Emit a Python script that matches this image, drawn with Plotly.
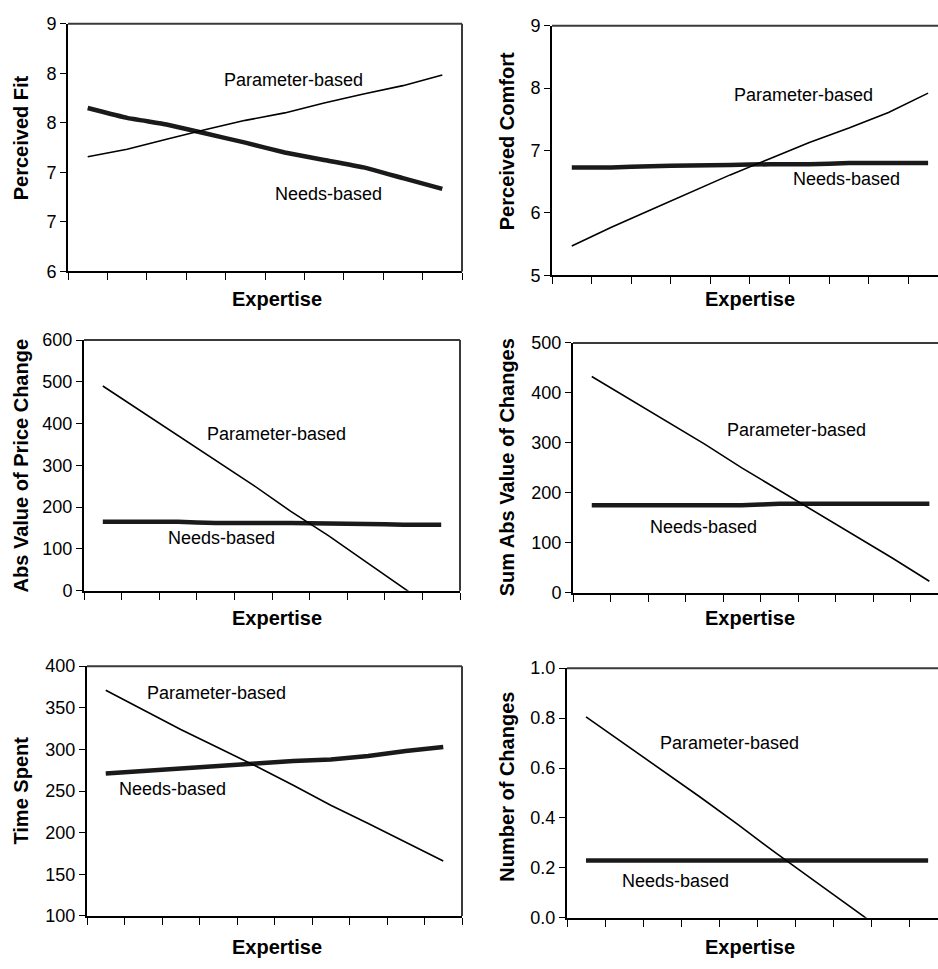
import plotly.graph_objects as go

W, H = 938, 969
FONT = "Liberation Sans, Arial, sans-serif"

expertise = list(range(1, 11))

fit_param = [7.39, 7.48, 7.60, 7.72, 7.83, 7.92, 8.04, 8.15, 8.25, 8.38]
fit_needs = [7.98, 7.86, 7.78, 7.67, 7.56, 7.44, 7.35, 7.26, 7.13, 7.00]
fit_ticks = [6, 6.6, 7.2, 7.8, 8.4, 9]
fit_ticklabels = ["6", "7", "7", "8", "8", "9"]

comfort_param = [5.47, 5.77, 6.05, 6.33, 6.61, 6.87, 7.13, 7.36, 7.61, 7.92]
comfort_needs = [6.73, 6.73, 6.75, 6.76, 6.77, 6.78, 6.78, 6.80, 6.80, 6.80]

price_param = [490, 431, 371, 312, 253, 190, 132, 69, 6, -56]
price_needs = [165, 165, 165, 162, 162, 162, 161, 160, 158, 158]

sumabs_param = [433, 388, 343, 298, 250, 205, 160, 115, 70, 23]
sumabs_needs = [175, 175, 175, 175, 175, 178, 178, 178, 178, 178]

time_param = [371, 347, 324, 302, 280, 257, 233, 211, 189, 166]
time_needs = [271, 274, 277, 280, 283, 286, 288, 292, 298, 303]

nchg_param = [0.805, 0.698, 0.592, 0.484, 0.373, 0.259, 0.149, 0.037, -0.073, -0.18]
nchg_needs = [0.23, 0.23, 0.23, 0.23, 0.23, 0.23, 0.23, 0.23, 0.23, 0.23]

panels = [
    dict(param=fit_param, needs=fit_needs, yrange=[6, 9], yticks=fit_ticks, ytext=fit_ticklabels,
         ytitle="Perceived Fit", box=(68, 462, 14, 267), xr=10.5,
         ytitle_pos=(21, 131), xtitle_pos=(277, 295),
         plab=(293, 71), nlab=(328, 188)),
    dict(param=comfort_param, needs=comfort_needs, yrange=[5, 9], yticks=[5, 6, 7, 8, 9], ytext=None,
         ytitle="Perceived Comfort", box=(552, 938, 16, 271), xr=10.25,
         ytitle_pos=(507, 134), xtitle_pos=(750, 295),
         plab=(803, 87), nlab=(846, 173)),
    dict(param=price_param, needs=price_needs, yrange=[0, 600], yticks=[0, 100, 200, 300, 400, 500, 600], ytext=None,
         ytitle="Abs Value of Price Change", box=(84, 460, 337, 593), xr=10.5,
         ytitle_pos=(21, 466), xtitle_pos=(277, 621),
         plab=(276, 433), nlab=(221, 539)),
    dict(param=sumabs_param, needs=sumabs_needs, yrange=[0, 500], yticks=[0, 100, 200, 300, 400, 500], ytext=None,
         ytitle="Sum Abs Value of Changes", box=(573, 938, 340, 595), xr=10.23,
         ytitle_pos=(507, 467), xtitle_pos=(750, 621),
         plab=(796, 429), nlab=(703, 528)),
    dict(param=time_param, needs=time_needs, yrange=[100, 400], yticks=[100, 150, 200, 250, 300, 350, 400], ytext=None,
         ytitle="Time Spent", box=(87, 462, 670, 925), xr=10.5,
         ytitle_pos=(21, 797), xtitle_pos=(277, 957),
         plab=(216, 697), nlab=(172, 795)),
    dict(param=nchg_param, needs=nchg_needs, yrange=[0, 1.0], yticks=[0, 0.2, 0.4, 0.6, 0.8, 1.0], ytext=["0.0", "0.2", "0.4", "0.6", "0.8", "1.0"],
         ytitle="Number of Changes", box=(567, 938, 672, 927), xr=10.26,
         ytitle_pos=(507, 793), xtitle_pos=(750, 957),
         plab=(729, 748), nlab=(675, 889)),
]

fig = go.Figure()
annotations = []
shapes = []
layout = {}
boundaries = [i + 0.5 for i in range(0, 11)]

for i, p in enumerate(panels, start=1):
    xa = "x" if i == 1 else f"x{i}"
    ya = "y" if i == 1 else f"y{i}"
    xkey = "xaxis" if i == 1 else f"xaxis{i}"
    ykey = "yaxis" if i == 1 else f"yaxis{i}"
    x0, x1, y0, y1 = p["box"]
    fig.add_trace(go.Scatter(x=expertise, y=p["needs"], mode="lines",
                             line=dict(color="#1a1a1a", width=4.5, shape="spline", smoothing=0.3),
                             xaxis=xa, yaxis=ya, showlegend=False, hoverinfo="skip"))
    fig.add_trace(go.Scatter(x=expertise, y=p["param"], mode="lines",
                             line=dict(color="black", width=1.6),
                             xaxis=xa, yaxis=ya, showlegend=False, hoverinfo="skip"))
    layout[xkey] = dict(domain=[x0 / W, x1 / W], range=[0.5, p["xr"]], anchor=ya,
                        tickvals=boundaries, showticklabels=False, ticks="outside",
                        ticklen=7, tickwidth=1.2, tickcolor="black",
                        showline=True, linecolor="black", linewidth=2,
                        showgrid=False, zeroline=False, fixedrange=True)
    yax = dict(domain=[1 - y1 / H, 1 - y0 / H], range=p["yrange"], anchor=xa,
               tickvals=p["yticks"], ticks="outside", ticklen=6, tickwidth=1.2,
               tickcolor="black", showline=True, linecolor="black", linewidth=2,
               showgrid=False, zeroline=False, fixedrange=True,
               tickfont=dict(family=FONT, size=18, color="black"))
    if p["ytext"] is not None:
        yax["ticktext"] = p["ytext"]
    layout[ykey] = yax
    # top / right frame in dark grey
    shapes.append(dict(type="line", xref=f"{xa} domain", yref=f"{ya} domain",
                       x0=0, x1=1, y0=1, y1=1, line=dict(color="#3a3a3a", width=2)))
    if p["xr"] >= 10.5:
        shapes.append(dict(type="line", xref=f"{xa} domain", yref=f"{ya} domain",
                           x0=1, x1=1, y0=0, y1=1, line=dict(color="#3a3a3a", width=2)))
    tx, ty = p["ytitle_pos"]
    annotations.append(dict(text=f"<b>{p['ytitle']}</b>", x=tx / W, y=1 - ty / H, xref="paper", yref="paper",
                            textangle=-90, showarrow=False, xanchor="center", yanchor="middle",
                            font=dict(family=FONT, size=20, color="black")))
    ex, ey = p["xtitle_pos"]
    annotations.append(dict(text="<b>Expertise</b>", x=ex / W, y=1 - ey / H, xref="paper", yref="paper",
                            showarrow=False, xanchor="center", yanchor="middle",
                            font=dict(family=FONT, size=20, color="black")))
    px_, py_ = p["plab"]
    annotations.append(dict(text="Parameter-based", x=px_ / W, y=1 - py_ / H, xref="paper", yref="paper",
                            showarrow=False, xanchor="center", yanchor="middle",
                            font=dict(family=FONT, size=18, color="black")))
    nx, ny = p["nlab"]
    annotations.append(dict(text="Needs-based", x=nx / W, y=1 - ny / H, xref="paper", yref="paper",
                            showarrow=False, xanchor="center", yanchor="middle",
                            font=dict(family=FONT, size=18, color="black")))

fig.update_layout(width=W, height=H, margin=dict(l=0, r=0, t=0, b=0),
                  paper_bgcolor="white", plot_bgcolor="white",
                  font=dict(family=FONT, color="black"),
                  annotations=annotations, shapes=shapes, **layout)

fig.write_html("out.html", config={"displayModeBar": False},
               post_script="document.body.style.margin='0px';document.body.style.padding='0px';document.documentElement.style.overflow='hidden';")
